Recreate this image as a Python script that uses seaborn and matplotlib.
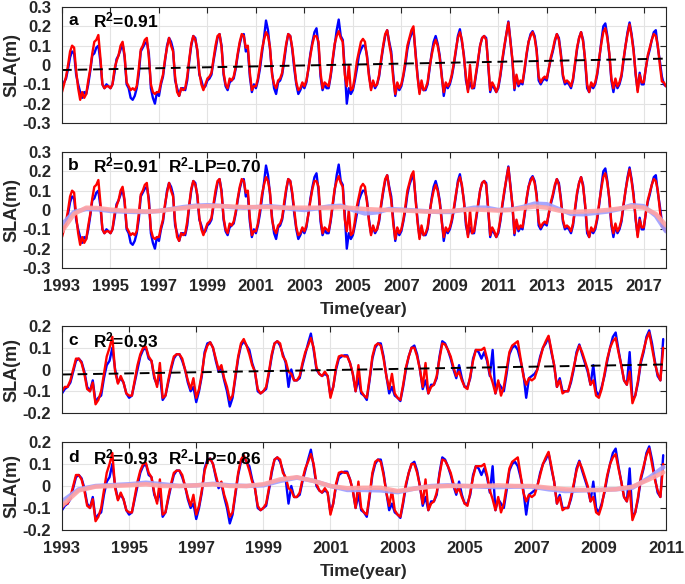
import numpy as np
import pandas as pd
import matplotlib
matplotlib.use("Agg")
import matplotlib.pyplot as plt
import seaborn as sns

# ---------------- data: panels a/b (monthly, 1993-2017) ----------------
years_ab = list(range(1993, 2018))
blue_ab = [
    [-0.12, -0.09, -0.07, -0.02, 0.04, 0.07, 0.06, -0.05, -0.10, -0.14, -0.17, -0.14],
    [-0.15, -0.10, -0.03, 0.05, 0.06, 0.09, 0.10, 0.02, -0.10, -0.12, -0.10, -0.11],
    [-0.12, -0.10, -0.04, 0.03, 0.05, 0.08, 0.11, 0.04, -0.10, -0.12, -0.17, -0.18],
    [-0.16, -0.12, -0.05, 0.07, 0.09, 0.11, 0.12, 0.06, -0.12, -0.17, -0.20, -0.14],
    [-0.16, -0.10, -0.06, 0.02, 0.10, 0.14, 0.12, 0.08, -0.08, -0.12, -0.16, -0.12],
    [-0.12, -0.13, -0.08, 0.02, 0.10, 0.15, 0.14, 0.07, -0.05, -0.08, -0.12, -0.11],
    [-0.08, -0.07, -0.05, 0.02, 0.08, 0.14, 0.16, 0.10, -0.05, -0.11, -0.13, -0.09],
    [-0.08, -0.07, -0.02, 0.05, 0.11, 0.15, 0.16, 0.07, 0.08, -0.06, -0.14, -0.10],
    [-0.12, -0.08, -0.02, 0.06, 0.14, 0.23, 0.18, 0.08, -0.04, -0.12, -0.15, -0.09],
    [-0.08, -0.05, 0.02, 0.10, 0.16, 0.15, 0.08, -0.02, -0.10, -0.15, -0.13, -0.10],
    [-0.12, -0.09, -0.02, 0.06, 0.12, 0.17, 0.19, 0.10, -0.06, -0.13, -0.10, -0.12],
    [-0.12, -0.06, 0.02, 0.10, 0.18, 0.235, 0.15, 0.13, -0.02, -0.20, -0.12, -0.15],
    [-0.13, -0.08, -0.02, 0.05, 0.08, 0.10, 0.10, 0.05, -0.05, -0.12, -0.09, -0.12],
    [-0.10, -0.06, 0.02, 0.09, 0.15, 0.18, 0.12, 0.07, -0.05, -0.16, -0.10, -0.13],
    [-0.11, -0.06, 0.00, 0.08, 0.13, 0.16, 0.18, 0.07, -0.05, -0.14, -0.10, -0.13],
    [-0.13, -0.10, -0.02, 0.06, 0.12, 0.15, 0.11, 0.05, -0.05, -0.16, -0.10, -0.12],
    [-0.10, -0.06, 0.00, 0.07, 0.15, 0.185, 0.12, 0.05, -0.08, -0.13, -0.09, -0.12],
    [-0.12, -0.05, 0.02, 0.10, 0.14, 0.15, 0.14, 0.00, -0.14, -0.10, -0.12, -0.14],
    [-0.12, -0.06, 0.02, 0.09, 0.16, 0.225, 0.13, 0.02, -0.13, -0.06, -0.11, -0.09],
    [-0.10, -0.03, 0.05, 0.12, 0.16, 0.175, 0.15, 0.08, -0.08, -0.10, -0.08, -0.07],
    [-0.08, -0.02, 0.03, 0.07, 0.12, 0.16, 0.14, 0.06, -0.06, -0.10, -0.09, -0.10],
    [-0.12, -0.08, 0.00, 0.08, 0.14, 0.17, 0.13, 0.02, -0.12, -0.14, -0.10, -0.12],
    [-0.10, -0.05, 0.03, 0.12, 0.20, 0.215, 0.15, 0.05, -0.08, -0.14, -0.08, -0.12],
    [-0.10, -0.06, 0.02, 0.10, 0.17, 0.22, 0.16, 0.08, -0.05, -0.13, -0.04, -0.10],
    [-0.10, -0.02, 0.04, 0.08, 0.13, 0.17, 0.18, 0.09, 0.02, -0.06, -0.10, -0.11],
]
red_ab = [
    [-0.14, -0.10, -0.06, 0.00, 0.07, 0.10, 0.09, -0.03, -0.12, -0.18, -0.14, -0.17],
    [-0.15, -0.08, -0.02, 0.06, 0.12, 0.13, 0.155, 0.04, -0.10, -0.12, -0.11, -0.11],
    [-0.12, -0.10, -0.02, 0.02, 0.05, 0.10, 0.12, 0.05, -0.09, -0.11, -0.13, -0.12],
    [-0.13, -0.11, -0.02, 0.08, 0.10, 0.13, 0.14, 0.04, -0.10, -0.14, -0.15, -0.14],
    [-0.14, -0.09, -0.05, 0.03, 0.09, 0.14, 0.10, 0.07, -0.06, -0.14, -0.16, -0.12],
    [-0.13, -0.12, -0.06, 0.03, 0.11, 0.15, 0.13, 0.08, -0.04, -0.10, -0.13, -0.10],
    [-0.07, -0.06, -0.04, 0.03, 0.10, 0.15, 0.16, 0.09, -0.04, -0.10, -0.12, -0.07],
    [-0.08, -0.06, -0.01, 0.06, 0.12, 0.16, 0.15, 0.09, 0.10, -0.04, -0.13, -0.11],
    [-0.11, -0.07, 0.00, 0.08, 0.13, 0.17, 0.15, 0.09, -0.05, -0.10, -0.12, -0.08],
    [-0.07, -0.04, 0.04, 0.11, 0.16, 0.15, 0.09, 0.00, -0.09, -0.13, -0.12, -0.09],
    [-0.11, -0.08, -0.02, 0.05, 0.11, 0.15, 0.15, 0.12, -0.04, -0.12, -0.09, -0.10],
    [-0.11, -0.05, 0.03, 0.11, 0.15, 0.175, 0.14, 0.12, -0.05, -0.11, 0.00, -0.13],
    [-0.12, -0.06, 0.02, 0.07, 0.12, 0.135, 0.12, 0.04, -0.06, -0.13, -0.08, -0.11],
    [-0.10, -0.05, 0.03, 0.10, 0.16, 0.18, 0.11, 0.05, -0.07, -0.15, -0.09, -0.12],
    [-0.10, -0.05, 0.02, 0.10, 0.14, 0.18, 0.20, 0.06, -0.06, -0.15, -0.08, -0.13],
    [-0.12, -0.09, -0.01, 0.05, 0.10, 0.13, 0.10, 0.04, -0.06, -0.14, -0.09, -0.11],
    [-0.09, -0.05, 0.01, 0.08, 0.14, 0.17, 0.13, 0.04, -0.06, -0.14, 0.00, -0.12],
    [-0.11, -0.04, 0.03, 0.10, 0.14, 0.15, 0.13, 0.01, -0.13, -0.09, -0.11, -0.14],
    [-0.11, -0.05, 0.03, 0.10, 0.16, 0.22, 0.12, 0.03, -0.12, -0.05, -0.10, -0.08],
    [-0.09, -0.02, 0.06, 0.12, 0.15, 0.17, 0.14, 0.07, -0.06, -0.09, -0.07, -0.06],
    [-0.07, -0.02, 0.04, 0.08, 0.13, 0.16, 0.13, 0.05, -0.05, -0.09, -0.08, -0.09],
    [-0.11, -0.07, 0.01, 0.09, 0.14, 0.17, 0.12, 0.03, -0.10, -0.14, -0.09, -0.11],
    [-0.09, -0.04, 0.04, 0.11, 0.17, 0.19, 0.14, 0.06, -0.07, -0.12, -0.07, -0.11],
    [-0.09, -0.05, 0.03, 0.10, 0.16, 0.21, 0.15, 0.07, -0.04, -0.14, -0.05, -0.09],
    [-0.09, -0.02, 0.05, 0.09, 0.13, 0.16, 0.15, 0.10, 0.00, -0.085, -0.09, -0.11],
]
trend_ab_t = [1993.0, 2017.92]
trend_ab = [-0.026, 0.033]
lp_blue_ab = [-0.075, -0.01, 0.005, 0.003, -0.005, -0.008, -0.01, -0.01, -0.005, 0.005,
              0.015, 0.022, 0.025, 0.022, 0.015, 0.012, 0.015, 0.02, 0.015, 0.005,
              0.0, 0.008, 0.018, 0.022, 0.0, -0.018, -0.012, 0.005, 0.002, -0.002,
              -0.006, -0.01, -0.01, 0.0, 0.012, 0.012, 0.0, 0.002, 0.015, 0.033,
              0.03, 0.005, -0.02, -0.022, -0.015, -0.008, 0.005, 0.025, 0.02, -0.03, -0.11]
lp_red_ab = [-0.11, -0.02, 0.012, 0.01, 0.002, -0.003, -0.005, -0.008, -0.005, 0.003,
             0.01, 0.018, 0.02, 0.02, 0.018, 0.015, 0.015, 0.015, 0.012, 0.012,
             0.012, 0.012, 0.012, 0.015, 0.01, 0.005, 0.002, 0.0, -0.002, -0.005,
             -0.008, -0.008, -0.006, 0.0, 0.003, 0.0, -0.003, 0.0, 0.01, 0.018,
             0.012, -0.003, -0.01, -0.008, -0.005, 0.0, 0.008, 0.018, 0.012, -0.02, -0.08]

# ---------------- data: panels c/d (monthly, 1993-2010) ----------------
years_cd = list(range(1993, 2011))
blue_cd = [
    [-0.11, -0.09, -0.08, -0.06, -0.01, 0.04, 0.05, 0.035, -0.01, -0.08, -0.10, -0.05],
    [-0.15, -0.13, -0.12, -0.04, 0.02, 0.04, 0.10, 0.00, -0.06, -0.04, -0.06, -0.11],
    [-0.13, -0.12, -0.06, 0.00, 0.06, 0.09, 0.10, 0.05, 0.04, -0.04, -0.07, -0.02],
    [-0.14, -0.12, -0.06, 0.00, 0.05, 0.07, 0.07, 0.04, 0.00, -0.06, -0.10, -0.08],
    [-0.15, -0.10, -0.03, 0.08, 0.12, 0.125, 0.10, 0.04, -0.01, 0.01, -0.05, -0.10],
    [-0.17, -0.13, -0.04, 0.05, 0.11, 0.13, 0.11, 0.09, 0.03, -0.01, -0.10, -0.11],
    [-0.10, -0.09, -0.02, 0.06, 0.12, 0.13, 0.11, 0.07, 0.03, -0.08, 0.00, -0.05],
    [-0.05, -0.04, 0.02, 0.07, 0.12, 0.165, 0.09, 0.00, -0.02, -0.03, -0.02, -0.03],
    [-0.12, -0.08, 0.00, 0.05, 0.06, 0.065, 0.065, 0.03, -0.02, -0.10, -0.04, -0.11],
    [-0.12, -0.14, -0.05, 0.05, 0.10, 0.12, 0.12, 0.06, -0.03, -0.11, -0.08, -0.12],
    [-0.13, -0.145, -0.08, 0.00, 0.06, 0.10, 0.11, 0.07, 0.00, -0.09, -0.05, -0.11],
    [-0.07, -0.07, -0.04, 0.06, 0.13, 0.12, 0.09, 0.05, 0.00, -0.04, 0.02, -0.04],
    [-0.08, -0.08, -0.04, 0.05, 0.09, 0.08, 0.05, 0.08, 0.04, -0.03, 0.09, -0.11],
    [-0.06, -0.08, -0.10, -0.02, 0.07, 0.10, 0.11, 0.09, 0.04, -0.02, -0.13, -0.04],
    [-0.03, -0.02, 0.00, 0.06, 0.10, 0.12, 0.15, 0.08, 0.02, -0.08, -0.04, -0.10],
    [-0.10, -0.10, -0.06, 0.00, 0.08, 0.115, 0.07, 0.03, -0.01, -0.07, 0.02, -0.10],
    [-0.12, -0.08, -0.03, 0.04, 0.10, 0.15, 0.17, 0.09, 0.02, -0.05, -0.07, 0.08],
    [-0.14, -0.12, -0.06, 0.03, 0.08, 0.15, 0.18, 0.12, 0.04, -0.03, -0.05, 0.14],
]
red_cd = [
    [-0.10, -0.08, -0.08, -0.05, 0.00, 0.05, 0.05, 0.03, -0.02, -0.09, -0.10, -0.06],
    [-0.16, -0.14, -0.10, -0.02, 0.06, 0.10, 0.15, -0.01, -0.065, -0.03, -0.06, -0.11],
    [-0.12, -0.12, -0.05, 0.02, 0.07, 0.10, 0.105, 0.06, 0.04, -0.03, -0.08, 0.03],
    [-0.13, -0.12, -0.05, 0.01, 0.06, 0.07, 0.07, 0.05, 0.00, -0.05, -0.09, -0.04],
    [-0.13, -0.09, -0.02, 0.07, 0.11, 0.125, 0.10, 0.05, 0.00, 0.02, -0.04, -0.08],
    [-0.14, -0.12, -0.03, 0.06, 0.12, 0.14, 0.11, 0.07, 0.02, -0.01, -0.09, -0.11],
    [-0.10, -0.08, -0.01, 0.07, 0.12, 0.13, 0.12, 0.06, 0.04, -0.01, -0.02, -0.05],
    [-0.05, -0.03, 0.03, 0.08, 0.11, 0.145, 0.10, 0.01, -0.02, -0.03, -0.01, -0.03],
    [-0.13, -0.08, 0.01, 0.06, 0.065, 0.06, 0.06, 0.03, -0.02, -0.10, 0.02, -0.10],
    [-0.12, -0.13, -0.04, 0.06, 0.11, 0.12, 0.11, 0.05, -0.03, -0.09, -0.02, -0.11],
    [-0.13, -0.14, -0.07, 0.01, 0.06, 0.10, 0.10, 0.06, 0.00, -0.08, 0.03, -0.11],
    [-0.08, -0.07, -0.03, 0.05, 0.12, 0.115, 0.09, 0.06, 0.01, -0.03, -0.01, -0.05],
    [-0.08, -0.09, -0.03, 0.04, 0.09, 0.09, 0.09, 0.10, 0.05, -0.02, -0.06, -0.11],
    [-0.05, -0.12, -0.08, 0.00, 0.08, 0.11, 0.12, 0.13, 0.05, -0.03, -0.07, -0.04],
    [-0.05, -0.04, 0.00, 0.05, 0.10, 0.13, 0.155, 0.09, 0.02, -0.08, -0.05, -0.11],
    [-0.10, -0.10, -0.05, 0.01, 0.07, 0.11, 0.08, 0.04, 0.00, -0.07, -0.05, -0.12],
    [-0.13, -0.09, -0.02, 0.05, 0.10, 0.13, 0.145, 0.08, 0.02, -0.05, -0.07, -0.01],
    [-0.155, -0.12, -0.05, 0.04, 0.09, 0.14, 0.17, 0.10, 0.03, -0.02, -0.05, 0.10],
]
trend_cd_t = [1993.0, 2010.92]
trend_cd = [-0.023, 0.023]
lp_blue_cd = [-0.07, -0.015, 0.0, 0.004, 0.008, 0.015, 0.008, 0.0, 0.003, 0.01,
              0.003, 0.0, 0.003, 0.023, 0.038, 0.023, 0.0, -0.018, -0.018, -0.02,
              -0.028, -0.012, 0.0, 0.003, 0.0, -0.003, -0.005, -0.003, -0.003, -0.015,
              -0.023, -0.02, -0.018, -0.015, -0.008, 0.038, 0.085]
lp_red_cd = [-0.09, -0.02, -0.003, 0.0, 0.003, 0.008, 0.0, 0.0, 0.003, 0.008,
             0.0, 0.0, 0.008, 0.03, 0.04, 0.023, 0.0, -0.01, -0.008, -0.008,
             -0.023, -0.012, -0.003, 0.0, 0.0, 0.0, 0.003, 0.0, 0.0, -0.008,
             -0.015, -0.018, -0.018, -0.015, -0.003, 0.03, 0.062]

labels_a = ["a", r"R$^{2}$=0.91", None]
labels_b = ["b", r"R$^{2}$=0.91", r"R$^{2}$-LP=0.70"]
labels_c = ["c", r"R$^{2}$=0.93", None]
labels_d = ["d", r"R$^{2}$=0.93", r"R$^{2}$-LP=0.86"]

# ---------------- style ----------------
sns.set_style("white")
plt.rcParams["font.family"] = ["Liberation Sans", "DejaVu Sans"]
plt.rcParams["font.weight"] = "bold"
plt.rcParams["axes.labelweight"] = "bold"
plt.rcParams["mathtext.fontset"] = "custom"
plt.rcParams["mathtext.rm"] = "Liberation Sans:bold"
plt.rcParams["mathtext.it"] = "Liberation Sans:bold"
plt.rcParams["mathtext.bf"] = "Liberation Sans:bold"
plt.rcParams["mathtext.default"] = "rm"

DARK = "#262626"
BLUE = "#0000ff"
RED = "#ff0000"
LPBLUE = "#9e9eff"
LPRED = "#ffa3a3"


def monthly_frame(years, rows):
    n = len(years) * 12
    t = years[0] + np.arange(n) / 12.0
    v = np.array(rows, dtype=float).ravel()
    return pd.DataFrame({"t": t, "v": v})


def lp_frame(start, end, vals):
    t = np.minimum(start + 0.5 * np.arange(len(vals)), end)
    return pd.DataFrame({"t": t, "v": vals})


W, H = 685, 584
fig = plt.figure(figsize=(W / 100, H / 100), dpi=100)

left, right = 62, 666
panels = [
    ("a", 7, 123), ("b", 152, 268), ("c", 326, 413), ("d", 442, 530)
]
axes = {}
for name, top, bot in panels:
    axes[name] = fig.add_axes([left / W, 1 - bot / H, (right - left) / W, (bot - top) / H])

df_blue_ab = monthly_frame(years_ab, blue_ab)
df_red_ab = monthly_frame(years_ab, red_ab)
df_blue_cd = monthly_frame(years_cd, blue_cd)
df_red_cd = monthly_frame(years_cd, red_cd)


def style(ax, xlim, xticks, yticks, ylabels, show_x):
    ax.set_xlim(*xlim)
    ax.set_ylim(yticks[0], yticks[-1])
    ax.set_xticks(xticks)
    ax.set_yticks(yticks)
    ax.set_yticklabels(ylabels)
    if show_x:
        ax.set_xticklabels([str(x) for x in xticks])
        ax.set_xlabel("Time(year)", fontsize=12.5, fontweight="bold", color=DARK, labelpad=6)
    else:
        ax.set_xticklabels([])
        ax.set_xlabel("")
    ax.set_ylabel("SLA(m)", fontsize=13, fontweight="bold", color=DARK)
    ax.yaxis.set_label_coords(-0.068, 0.5)
    ax.grid(True, color="#e3e3e3", lw=0.8)
    ax.set_axisbelow(True)
    ax.tick_params(direction="in", top=True, right=True, length=4, width=0.8,
                   color=DARK, labelcolor=DARK, labelsize=12)
    ax.tick_params(axis="y", pad=8)
    ax.tick_params(axis="x", pad=8)
    for lab in ax.get_xticklabels() + ax.get_yticklabels():
        lab.set_fontweight("bold")
    for s in ax.spines.values():
        s.set_color(DARK)
        s.set_linewidth(0.8)
        s.set_visible(True)


def annotate(ax, labs, y):
    ax.text(0.010, y, labs[0], transform=ax.transAxes, fontsize=12.5,
            fontweight="bold", color="black", va="center", ha="left")
    ax.text(0.051, y, labs[1], transform=ax.transAxes, fontsize=12.5,
            fontweight="bold", color="black", va="center", ha="left")
    if labs[2]:
        ax.text(0.176, y, labs[2], transform=ax.transAxes, fontsize=12.5,
                fontweight="bold", color="black", va="center", ha="left")


yt_ab = [-0.3, -0.2, -0.1, 0, 0.1, 0.2, 0.3]
yl_ab = ["-0.3", "-0.2", "-0.1", "0", "0.1", "0.2", "0.3"]
yt_cd = [-0.2, -0.1, 0, 0.1, 0.2]
yl_cd = ["-0.2", "-0.1", "0", "0.1", "0.2"]
xt_ab = list(range(1993, 2018, 2))
xt_cd = list(range(1993, 2012, 2))

LW = 1.7

# panel a
ax = axes["a"]
sns.lineplot(data=df_blue_ab, x="t", y="v", ax=ax, color=BLUE, lw=LW, estimator=None)
sns.lineplot(data=df_red_ab, x="t", y="v", ax=ax, color=RED, lw=LW, estimator=None)
sns.lineplot(x=trend_ab_t, y=trend_ab, ax=ax, color="black", lw=1.4, linestyle=(0, (5, 3)))
style(ax, (1993, 2017.92), xt_ab, yt_ab, yl_ab, False)
annotate(ax, labels_a, 0.88)

# panel b
ax = axes["b"]
sns.lineplot(data=df_blue_ab, x="t", y="v", ax=ax, color=BLUE, lw=LW, estimator=None)
sns.lineplot(data=df_red_ab, x="t", y="v", ax=ax, color=RED, lw=LW, estimator=None)
sns.lineplot(data=lp_frame(1993.0, 2017.92, lp_blue_ab), x="t", y="v", ax=ax,
             color=LPBLUE, lw=3.2, alpha=0.9, estimator=None)
sns.lineplot(data=lp_frame(1993.0, 2017.92, lp_red_ab), x="t", y="v", ax=ax,
             color=LPRED, lw=3.2, alpha=0.9, estimator=None)
style(ax, (1993, 2017.92), xt_ab, yt_ab, yl_ab, True)
annotate(ax, labels_b, 0.88)

# panel c
ax = axes["c"]
sns.lineplot(data=df_blue_cd, x="t", y="v", ax=ax, color=BLUE, lw=LW, estimator=None)
sns.lineplot(data=df_red_cd, x="t", y="v", ax=ax, color=RED, lw=LW, estimator=None)
sns.lineplot(x=trend_cd_t, y=trend_cd, ax=ax, color="black", lw=1.4, linestyle=(0, (5, 3)))
style(ax, (1993, 2011), xt_cd, yt_cd, yl_cd, False)
annotate(ax, labels_c, 0.83)

# panel d
ax = axes["d"]
sns.lineplot(data=df_blue_cd, x="t", y="v", ax=ax, color=BLUE, lw=LW, estimator=None)
sns.lineplot(data=df_red_cd, x="t", y="v", ax=ax, color=RED, lw=LW, estimator=None)
sns.lineplot(data=lp_frame(1993.0, 2010.92, lp_blue_cd), x="t", y="v", ax=ax,
             color=LPBLUE, lw=3.2, alpha=0.9, estimator=None)
sns.lineplot(data=lp_frame(1993.0, 2010.92, lp_red_cd), x="t", y="v", ax=ax,
             color=LPRED, lw=3.2, alpha=0.9, estimator=None)
style(ax, (1993, 2011), xt_cd, yt_cd, yl_cd, True)
annotate(ax, labels_d, 0.82)

fig.savefig("out.png", dpi=100)
